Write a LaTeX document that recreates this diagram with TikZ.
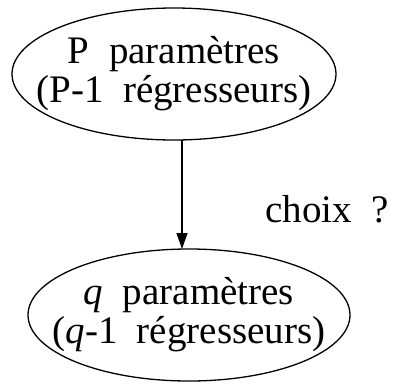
\documentclass[tikz,border=0pt]{standalone}
\usepackage{fontspec}
\setmainfont{Liberation Serif}
\usepackage{tikz}
\usetikzlibrary{positioning,arrows.meta,calc,shapes.geometric}
\tikzset{
  modele/.style={align=center,inner sep=0pt,
    font=\fontsize{39}{39}\selectfont},
  contour/.style={line width=1.3pt},
  fleche/.style={line width=1.3pt,-{Triangle[length=16pt,width=11pt]}}
}

\begin{document}
\begin{tikzpicture}[x=1pt,y=-1pt]
  \useasboundingbox (0,0) rectangle (394,384);
  % models
  \node[modele] (complet) at (174,74) {P\ \ paramètres\\(P-1\ \ régresseurs)};
  \node[modele] (reduit) at (189,315) {\textit{q}\ \ paramètres\\(\textit{q}-1\ \ régresseurs)};
  \draw[contour] (complet) ellipse [x radius=162, y radius=66];
  \draw[contour] (reduit) ellipse [x radius=161, y radius=66];
  % selection
  \coordinate (depart) at ($(complet)+(8,66)$);
  \coordinate (arrivee) at ($(reduit)+(-7,-66)$);
  \draw[fleche] (depart) -- (arrivee);
  \node[anchor=base,font=\fontsize{39}{39}\selectfont] (choix) at (327,222) {choix\ \ ?};
\end{tikzpicture}
\end{document}
